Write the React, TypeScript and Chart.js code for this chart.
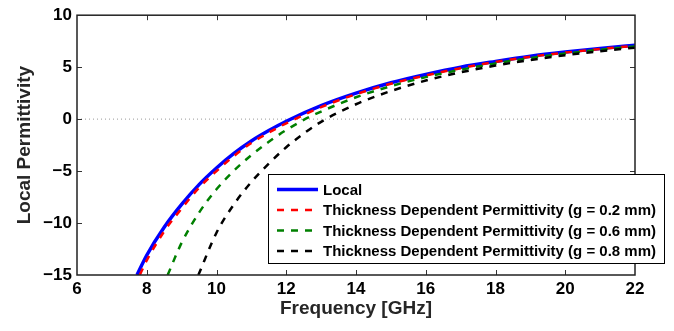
import React, { useEffect, useRef } from "react";
import { Chart, registerables } from "chart.js";

Chart.register(...registerables);

// ---- data ----
const freqLocal = [7.72, 8, 8.5, 9, 9.5, 10, 10.5, 11, 11.5, 12, 13, 14, 15, 16, 17, 18, 19, 20, 21, 22];
const epsLocal = [-15.0, -13.1, -10.4, -8.2, -6.3, -4.7, -3.3, -2.1, -1.1, -0.2, 1.3, 2.5, 3.5, 4.3, 5.0, 5.55, 6.05, 6.45, 6.8, 7.1];

const freqG02 = [7.8, 8, 8.5, 9, 9.5, 10, 10.5, 11, 11.5, 12, 13, 14, 15, 16, 17, 18, 19, 20, 21, 22];
const epsG02 = [-15.0, -13.6, -10.8, -8.6, -6.6, -5.0, -3.55, -2.3, -1.3, -0.4, 1.15, 2.4, 3.4, 4.2, 4.9, 5.5, 6.0, 6.4, 6.75, 7.05];

const freqG06 = [8.6, 9, 9.5, 10, 10.5, 11, 11.5, 12, 12.5, 13, 14, 15, 16, 17, 18, 19, 20, 21, 22];
const epsG06 = [-15.0, -11.9, -9.0, -6.75, -4.96, -3.47, -2.18, -1.05, -0.08, 0.73, 2.1, 3.17, 4.04, 4.75, 5.36, 5.88, 6.31, 6.68, 7.0];

const freqG08 = [9.48, 10, 10.5, 11, 11.5, 12, 12.5, 13, 14, 15, 16, 17, 18, 19, 20, 21, 22];
const epsG08 = [-15.0, -10.93, -8.2, -6.05, -4.28, -2.71, -1.39, -0.26, 1.43, 2.7, 3.71, 4.5, 5.15, 5.69, 6.15, 6.54, 6.88];

const zeroLineX = [6, 22];
const zeroLineY = [0, 0];

const seriesLabels = [
  "Local",
  "Thickness Dependent Permittivity (g = 0.2 mm)",
  "Thickness Dependent Permittivity (g = 0.6 mm)",
  "Thickness Dependent Permittivity (g = 0.8 mm)",
];

const xTitle = "Frequency [GHz]";
const yTitle = "Local Permittivity";
const xMin = 6, xMax = 22, xStep = 2;
const yMin = -15, yMax = 10, yStep = 5;

const FONT = "'Liberation Sans', Arial, Helvetica, sans-serif";

const zip = (xs: number[], ys: number[]) => xs.map((x, i) => ({ x, y: ys[i] }));

const framePlugin = {
  id: "frame",
  afterDatasetsDraw(chart: any) {
    const { ctx, chartArea } = chart;
    const { left, right, top, bottom } = chartArea;
    const xs = chart.scales.x;
    const ys = chart.scales.y;
    ctx.save();
    ctx.strokeStyle = "#333333";
    ctx.lineWidth = 1;
    const tl = 5;
    xs.ticks.forEach((t: any) => {
      const px = Math.round(xs.getPixelForValue(t.value)) + 0.5;
      if (px <= left + 2 || px >= right - 2) return;
      ctx.beginPath();
      ctx.moveTo(px, bottom);
      ctx.lineTo(px, bottom - tl);
      ctx.moveTo(px, top);
      ctx.lineTo(px, top + tl);
      ctx.stroke();
    });
    ys.ticks.forEach((t: any) => {
      const py = Math.round(ys.getPixelForValue(t.value)) + 0.5;
      if (py <= top + 2 || py >= bottom - 2) return;
      ctx.beginPath();
      ctx.moveTo(left, py);
      ctx.lineTo(left + tl, py);
      ctx.moveTo(right, py);
      ctx.lineTo(right - tl, py);
      ctx.stroke();
    });
    ctx.strokeStyle = "#222222";
    ctx.lineWidth = 1.5;
    ctx.strokeRect(left, top, right - left, bottom - top);
    ctx.restore();
  },
};

const legendPlugin = {
  id: "boxLegend",
  afterDraw(chart: any) {
    const { ctx } = chart;
    const bx = 268.5, by = 174.5, bw = 396, bh = 89;
    ctx.save();
    ctx.fillStyle = "#ffffff";
    ctx.fillRect(bx, by, bw, bh);
    ctx.strokeStyle = "#000000";
    ctx.lineWidth = 1;
    ctx.strokeRect(bx, by, bw, bh);
    const items = chart.data.datasets.filter((d: any) => !d.hideInLegend);
    items.forEach((d: any, i: number) => {
      const cy = 189.5 + i * 20.5;
      ctx.beginPath();
      ctx.strokeStyle = d.borderColor;
      ctx.lineWidth = d.borderWidth;
      ctx.setLineDash(d.borderDash || []);
      ctx.moveTo(277, cy);
      ctx.lineTo(318, cy);
      ctx.stroke();
      ctx.setLineDash([]);
      ctx.fillStyle = "#000000";
      ctx.font = `bold 15px ${FONT}`;
      ctx.textAlign = "left";
      ctx.textBaseline = "middle";
      ctx.fillText(d.label, 323, cy + 1);
    });
    ctx.restore();
  },
};

export default function App() {
  const ref = useRef<HTMLCanvasElement | null>(null);
  useEffect(() => {
    if (!ref.current) return;
    const chart = new Chart(ref.current, {
      type: "line",
      data: {
        datasets: [
          {
            label: seriesLabels[0],
            data: zip(freqLocal, epsLocal),
            borderColor: "#0000ff",
            borderWidth: 3.5,
            pointRadius: 0,
            cubicInterpolationMode: "monotone",
            order: 4,
          },
          {
            label: seriesLabels[1],
            data: zip(freqG02, epsG02),
            borderColor: "#ff0000",
            borderWidth: 2.5,
            borderDash: [7, 7],
            pointRadius: 0,
            cubicInterpolationMode: "monotone",
            order: 3,
          },
          {
            label: seriesLabels[2],
            data: zip(freqG06, epsG06),
            borderColor: "#008000",
            borderWidth: 2.5,
            borderDash: [7, 7],
            pointRadius: 0,
            cubicInterpolationMode: "monotone",
            order: 2,
          },
          {
            label: seriesLabels[3],
            data: zip(freqG08, epsG08),
            borderColor: "#000000",
            borderWidth: 2.5,
            borderDash: [7, 7],
            pointRadius: 0,
            cubicInterpolationMode: "monotone",
            order: 1,
          },
          {
            label: "zero",
            hideInLegend: true,
            data: zip(zeroLineX, zeroLineY),
            borderColor: "#999999",
            borderWidth: 1,
            borderDash: [1, 3],
            pointRadius: 0,
            order: 5,
          } as any,
        ],
      },
      options: {
        animation: false,
        responsive: false,
        layout: { padding: { top: 13, right: 39, bottom: 0, left: 0 } },
        plugins: { legend: { display: false }, tooltip: { enabled: false } },
        scales: {
          x: {
            type: "linear",
            min: xMin,
            max: xMax,
            ticks: {
              stepSize: xStep,
              color: "#000000",
              font: { family: FONT, size: 17, weight: "bold" },
              padding: 4,
              maxRotation: 0,
            },
            grid: { display: false, drawTicks: false, tickLength: 0 },
            border: { display: false },
            title: {
              display: true,
              text: xTitle,
              color: "#262626",
              font: { family: FONT, size: 19, weight: "bold" },
              padding: { top: 0, bottom: 11 },
            },
            afterFit: (s: any) => {
              s.height = 56;
            },
          },
          y: {
            type: "linear",
            min: yMin,
            max: yMax,
            ticks: {
              stepSize: yStep,
              color: "#000000",
              font: { family: FONT, size: 17, weight: "bold" },
              padding: 5,
              callback: (v: any) => String(v).replace("-", "\u2212"),
            },
            grid: { display: false, drawTicks: false, tickLength: 0 },
            border: { display: false },
            title: {
              display: true,
              text: yTitle,
              color: "#262626",
              font: { family: FONT, size: 19, weight: "bold" },
              padding: { top: 13, bottom: 0 },
            },
            afterFit: (s: any) => {
              s.width = 77;
            },
          },
        },
      } as any,
      plugins: [framePlugin, legendPlugin],
    });
    return () => chart.destroy();
  }, []);
  return (
    <div style={{ position: "fixed", left: 0, top: 0, width: 674, height: 331, background: "#fff" }}>
      <canvas ref={ref} width={674} height={331} style={{ display: "block" }} />
    </div>
  );
}
